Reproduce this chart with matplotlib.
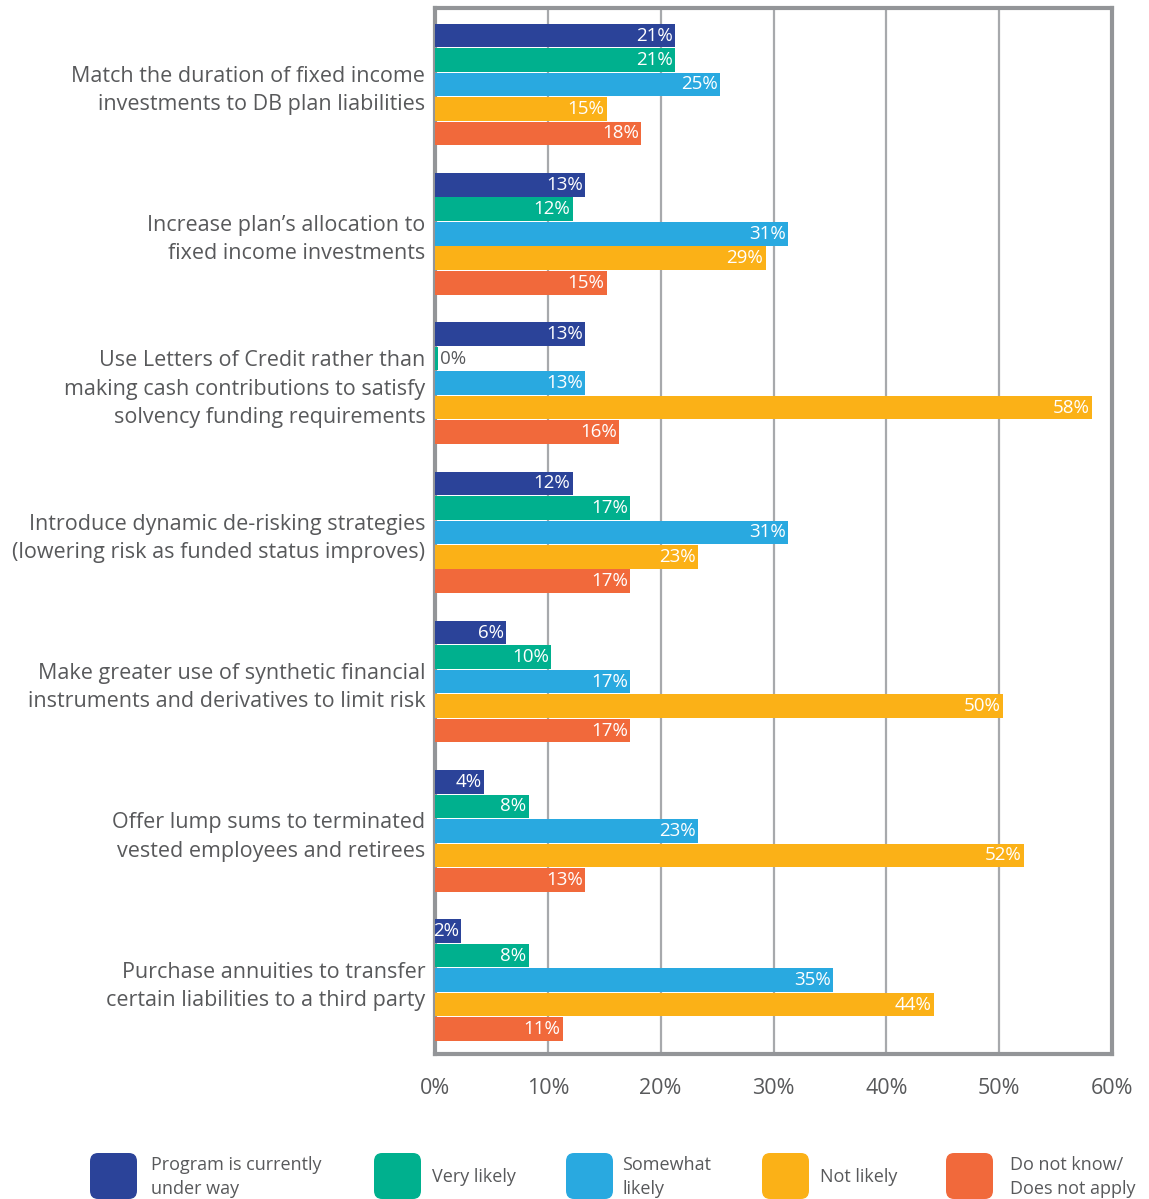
import numpy as np
import matplotlib.pyplot as plt
from matplotlib.patches import FancyBboxPatch

plt.rcParams['font.family'] = ['Open Sans', 'DejaVu Sans']

# categories, top to bottom
categories = [
    "Match the duration of fixed income\ninvestments to DB plan liabilities",
    "Increase plan\u2019s allocation to\nfixed income investments",
    "Use Letters of Credit rather than\nmaking cash contributions to satisfy\nsolvency funding requirements",
    "Introduce dynamic de-risking strategies\n(lowering risk as funded status improves)",
    "Make greater use of synthetic financial\ninstruments and derivatives to limit risk",
    "Offer lump sums to terminated\nvested employees and retirees",
    "Purchase annuities to transfer\ncertain liabilities to a third party",
]

series_names = ["Program is currently\nunder way", "Very likely", "Somewhat\nlikely",
                "Not likely", "Do not know/\nDoes not apply"]
colors = ["#2B4399", "#00B08E", "#29A9E0", "#FBB117", "#F1693B"]

under_way = [21.3, 13.3, 13.3, 12.2, 6.3, 4.3, 2.3]
very_likely = [21.3, 12.2, 0.3, 17.3, 10.3, 8.3, 8.3]
somewhat = [25.3, 31.3, 13.3, 31.3, 17.3, 23.3, 35.3]
not_likely = [15.2, 29.3, 58.2, 23.3, 50.3, 52.2, 44.2]
dont_know = [18.3, 15.2, 16.3, 17.3, 17.3, 13.3, 11.3]
series = [under_way, very_likely, somewhat, not_likely, dont_know]

xticks = [0, 10, 20, 30, 40, 50, 60]

text_gray = "#58595B"
frame_gray = "#939598"

fig = plt.figure(figsize=(11.49, 11.99), dpi=100)
ax = fig.add_axes([0.3786, 0.1209, 0.5892, 0.8724])

y = np.arange(len(categories))
pitch = 0.164
bh = 0.158
for k, (vals, c) in enumerate(zip(series, colors)):
    pos = y + (k - 2) * pitch
    ax.barh(pos, vals, height=bh, color=c, zorder=3)
    for yy, v in zip(pos, vals):
        lab = f"{v:.0f}%"
        if v < 1.5:
            ax.text(v + 0.15, yy, lab, ha='left', va='center', color=text_gray,
                    fontsize=13.5, zorder=4)
        else:
            ax.text(v - 0.2, yy, lab, ha='right', va='center', color='white',
                    fontsize=13.5, zorder=4)

ax.set_xlim(0, 60)
ax.set_ylim(6.495, -0.512)
ax.set_xticks(xticks)
ax.set_xticklabels([f"{t}%" for t in xticks], fontsize=15.5, color=text_gray)
ax.tick_params(axis='x', length=0, pad=17)
ax.set_yticks(y)
ax.set_yticklabels(categories, fontsize=15.5, color=text_gray, linespacing=1.45)
ax.tick_params(axis='y', length=0, pad=7)
ax.grid(axis='x', color="#A7A9AC", linewidth=1.6, zorder=1)
for s in ax.spines.values():
    s.set_color(frame_gray)
    s.set_linewidth(3)

# legend
box_x = [90, 374, 566, 762, 946]
text_x = [151, 432, 622, 820, 1010]
W, H = 1149, 1199
for bx, tx, c, name in zip(box_x, text_x, colors, series_names):
    p = FancyBboxPatch((bx / W, 1 - 1199 / H), 47 / W, 46 / H,
                       boxstyle="round,pad=0,rounding_size=0.007",
                       transform=fig.transFigure, facecolor=c, edgecolor='none')
    fig.patches.append(p)
    fig.text(tx / W, 1 - 1177 / H, name, ha='left', va='center', fontsize=13,
             color=text_gray, linespacing=1.4)

fig.savefig("out.png", dpi=100)
